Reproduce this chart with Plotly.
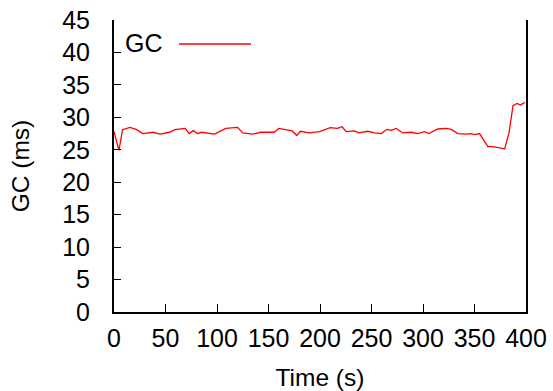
import plotly.graph_objects as go

time_s = [0, 4.8, 8.3, 15.5, 22, 28, 38, 44.6, 54, 59, 69, 73, 77, 81, 85, 97.5,
          108.5, 120, 125, 134.5, 142.5, 155.5, 160, 168, 173, 177.4, 181, 189.5,
          199.5, 210, 217, 221.5, 225.4, 233.5, 237.6, 246.4, 253, 259.4, 265, 269,
          274, 280.4, 288.5, 295, 301.5, 305.6, 314.4, 322.5, 327.4, 333.8, 342,
          346.8, 350, 354.9, 363, 367.9, 374.4, 379.3, 383.5, 387.4, 391.3, 394.6, 398.8]
gc_ms = [27.8, 24.9, 28.1, 28.45, 28.1, 27.5, 27.7, 27.4, 27.7, 28.1, 28.3, 27.5,
         27.95, 27.5, 27.7, 27.4, 28.3, 28.45, 27.6, 27.4, 27.7, 27.7, 28.3, 28.1,
         27.9, 27.2, 27.85, 27.6, 27.8, 28.4, 28.3, 28.55, 27.8, 27.9, 27.6, 27.85,
         27.6, 27.5, 28.15, 28.0, 28.3, 27.6, 27.7, 27.5, 27.8, 27.5, 28.2, 28.3,
         28.15, 27.5, 27.4, 27.5, 27.35, 27.5, 25.5, 25.5, 25.3, 25.15, 27.6, 31.8,
         32.15, 31.9, 32.3]
x_ticks = [0, 50, 100, 150, 200, 250, 300, 350, 400]
y_ticks = [0, 5, 10, 15, 20, 25, 30, 35, 40, 45]

font = "Liberation Sans, Arial, sans-serif"

fig = go.Figure()
fig.add_trace(go.Scatter(x=time_s, y=gc_ms, mode="lines", name="GC",
                         line=dict(color="#ff0000", width=1.3), showlegend=False))

fig.update_layout(
    width=553, height=391,
    margin=dict(l=114, r=27, t=20, b=79),
    paper_bgcolor="white", plot_bgcolor="white",
    font=dict(family=font, size=25, color="black"),
    xaxis=dict(range=[0, 400], tickvals=x_ticks, ticks="inside", ticklen=8,
               tickcolor="black", showline=True, linecolor="black", linewidth=2,
               showgrid=False, zeroline=False, ticklabelstandoff=3, automargin=False,
               ticklabeloverflow="allow", tickfont=dict(size=25),
               title=dict(text="Time (s)", standoff=19, font=dict(size=24.5))),
    yaxis=dict(range=[0, 45], tickvals=y_ticks, ticks="inside", ticklen=7,
               tickcolor="black", showline=True, linecolor="black", linewidth=2,
               mirror=True, showgrid=False, zeroline=False, ticklabelstandoff=17,
               automargin=False, ticklabeloverflow="allow", tickfont=dict(size=25),
               title=dict(text="GC (ms)", standoff=26, font=dict(size=24.5))),
)

fig.add_annotation(xref="paper", yref="paper", x=(123 - 114) / 412, y=(312 - 43) / 292,
                   text="GC", showarrow=False, xanchor="left", yanchor="middle",
                   font=dict(family=font, size=25, color="black"))
fig.add_shape(type="line", xref="paper", yref="paper",
              x0=(179 - 114) / 412, x1=(251 - 114) / 412,
              y0=(312 - 44) / 292, y1=(312 - 44) / 292,
              line=dict(color="#ff0000", width=1.3))

fig.write_html("out.html", config={"displayModeBar": False},
               post_script="document.body.style.margin='0';document.body.style.overflow='hidden';")
